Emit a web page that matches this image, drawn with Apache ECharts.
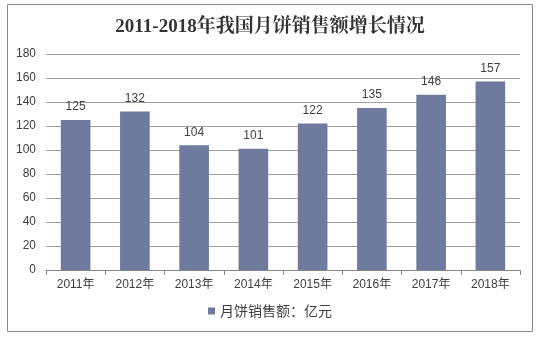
<!DOCTYPE html>
<html>
<head>
<meta charset="utf-8">
<script src="https://cdn.jsdelivr.net/npm/echarts@6/dist/echarts.min.js"></script>
<style>
html,body{margin:0;padding:0;background:#fff;}
#c{width:540px;height:337px;}
</style>
</head>
<body>
<div id="c"></div>
<script>
var categories = ['2011年','2012年','2013年','2014年','2015年','2016年','2017年','2018年'];
var salesValues = [125, 132, 104, 101, 122, 135, 146, 157];
var seriesName = '月饼销售额：亿元';
var titleText = '2011-2018年我国月饼销售额增长情况';

var chart = echarts.init(document.getElementById('c'), null, {renderer:'canvas'});
chart.setOption({
  animation: false,
  backgroundColor: '#ffffff',
  graphic: [{
    type: 'rect',
    shape: {x: 7.5, y: 4.5, width: 525, height: 327},
    style: {fill: 'none', stroke: '#8a8a8a', lineWidth: 1},
    silent: true
  }],
  title: {
    text: titleText,
    left: 'center',
    top: 13,
    textStyle: {
      fontFamily: '"Liberation Serif","Noto Serif CJK SC","Noto Sans CJK SC",serif',
      fontSize: 19,
      fontWeight: 'bold',
      color: '#333333'
    }
  },
  legend: {
    bottom: 14,
    left: 'center',
    itemWidth: 7,
    itemHeight: 7,
    itemGap: 4,
    icon: 'rect',
    textStyle: {fontSize: 14, color: '#404040', fontFamily: '"Noto Sans CJK SC",sans-serif'},
    data: [seriesName]
  },
  grid: {left: 46, right: 20, top: 54, bottom: 67, containLabel: false},
  xAxis: {
    type: 'category',
    data: categories,
    axisLine: {lineStyle: {color: '#888888'}},
    axisTick: {show: true, length: 5, alignWithLabel: false, lineStyle: {color: '#888888'}},
    axisLabel: {fontSize: 12, color: '#404040', margin: 9, fontFamily: '"Liberation Sans","Noto Sans CJK SC",sans-serif'}
  },
  yAxis: {
    type: 'value',
    min: 0,
    max: 180,
    interval: 20,
    axisLine: {show: false},
    axisTick: {show: false},
    axisLabel: {fontSize: 12, color: '#404040', margin: 10, fontFamily: '"Liberation Sans",sans-serif'},
    splitLine: {lineStyle: {color: '#a0a0a0'}}
  },
  series: [{
    name: seriesName,
    type: 'bar',
    data: salesValues,
    barWidth: '50%',
    itemStyle: {color: '#6F7B9E'},
    label: {show: true, position: 'top', distance: 7, fontSize: 12, color: '#404040', fontFamily: '"Liberation Sans",sans-serif'}
  }]
});
</script>
</body>
</html>
